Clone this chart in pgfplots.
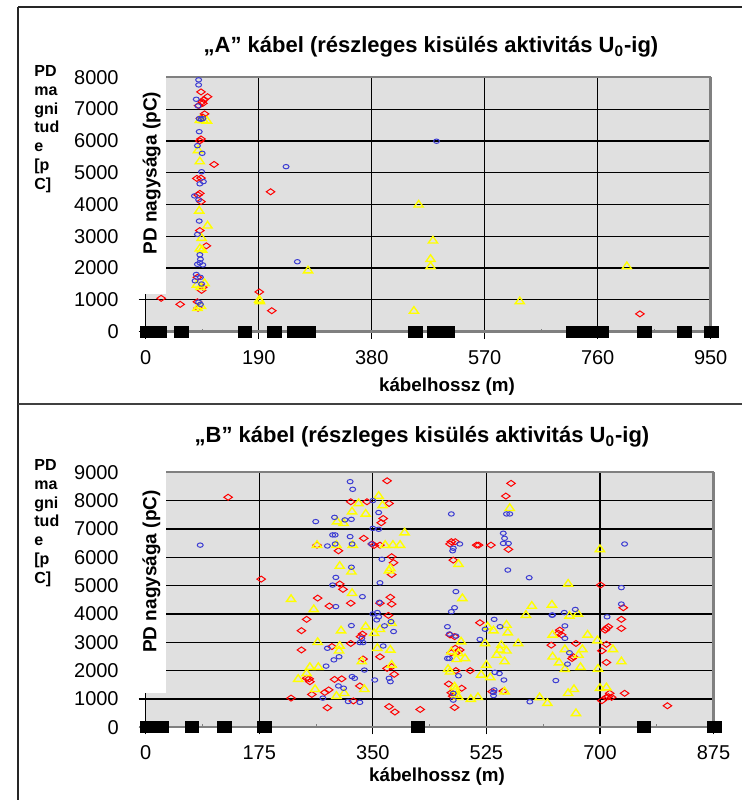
\documentclass[border=0pt]{standalone}
\usepackage{fontspec}
\setmainfont{Liberation Sans}
\usepackage{pgfplots}
\pgfplotsset{compat=1.18}
\definecolor{plotgray}{RGB}{224,224,224}
\definecolor{bordergray}{RGB}{128,128,128}
\definecolor{ptblue}{RGB}{60,60,210}
\definecolor{ptred}{RGB}{255,0,0}
\definecolor{ptyellow}{RGB}{255,255,0}

\pgfplotsset{
  pdaxis/.style={
    scale only axis, clip=false,
    axis line style={draw=none},
    axis background/.style={fill=plotgray},
    grid=major,
    major grid style={black, line width=0.6pt},
    tick pos=left, tick align=outside,
    major tick length=3.5pt,
    tick style={black, line width=0.6pt},
    minor x tick num=1, minor tick length=1.5pt,
    minor tick style={yshift=1.5pt, bordergray, line width=0.5pt},
    tick label style={font=\fontsize{10}{12}\selectfont},
    /pgf/number format/assume math mode=true,
    /pgf/number format/1000 sep={},
    scaled ticks=false,
    xticklabel style={yshift=-2.3pt},
    yticklabel style={xshift=-6.5pt},
  },
  bluepts/.style={only marks, color=ptblue, mark=o, mark size=1.1pt,
    mark options={xscale=1.35, line width=0.5pt}},
  redpts/.style={only marks, color=ptred, mark=diamond, mark size=1.5pt,
    mark options={xscale=1.9, line width=0.5pt}},
  yelpts/.style={only marks, color=ptyellow, mark=triangle, mark size=2.2pt,
    mark options={xscale=1.2, line width=0.7pt}},
  joints/.style={only marks, color=black, mark=square*, mark size=2.75pt,
    mark options={xscale=1.25}},
}

\begin{document}
\begin{tikzpicture}[x=1pt,y=1pt]
\useasboundingbox (0,0) rectangle (371,400);
% frames
\draw[line width=0.6pt, black!85] (9,396.5) -- (371,396.5);
\draw[line width=0.6pt, black!85] (9,396.5) -- (9,0);
\draw[line width=0.6pt, black!75] (9,198) -- (371,198);

% ---------- A ----------
\node[font=\bfseries\fontsize{11}{13}\selectfont] at (215.5,376.5)
  {„A” kábel (részleges kisülés aktivitás U\textsubscript{0}-ig)};
\node[anchor=north west, align=left, inner sep=0pt,
  font=\bfseries\fontsize{8}{9.35}\selectfont] at (17,367.3)
  {PD\\ma\\gni\\tud\\e\\{}[p\\C]};
\node[font=\bfseries\fontsize{9.4}{11}\selectfont] at (223.5,206.5) {kábelhossz (m)};

\begin{axis}[pdaxis, at={(72.85pt,234.15pt)}, anchor=south west,
  width=282.5pt, height=127.2pt,
  xmin=0, xmax=950, ymin=0, ymax=8000,
  xtick={0,190,...,950}, ytick={0,1000,...,8000}]
\draw[bordergray, line width=1pt] (rel axis cs:0,1) -- (rel axis cs:1,1);
\draw[bordergray, line width=1.6pt] (rel axis cs:1,0) -- (rel axis cs:1,1);
\draw[bordergray, line width=1.2pt] (axis cs:-10,0) -- (rel axis cs:1,0);
\fill[white] (axis cs:-30,1186) rectangle (axis cs:34,8230);
\node[rotate=90, font=\bfseries\fontsize{9.5}{11}\selectfont] at (axis cs:10,4990) {PD nagysága (pC)};
\addplot[redpts] coordinates {
(93,7540)(104,7390)(98,7300)(95,7230)(89,7110)(96,7180)(99,6850)(96,6750)(92,6710)
(93,6060)(91,6000)(115,5260)(86,4820)(93,4830)(91,4350)(88,4300)(93,4090)(91,3180)
(102,2700)(87,1710)(96,1400)(94,1300)(87,940)(88,740)(26,1050)(58,860)(191,1250)
(212,660)(210,4400)(831,560)};
\addplot[yelpts] coordinates {
(91,6650)(97,6640)(103,6630)(88,5700)(91,5350)(90,3800)(104,3330)(94,2940)(91,2610)
(95,2570)(99,1520)(86,1470)(92,1400)(87,740)(93,800)(192,950)(191,1000)(273,1920)
(459,3990)(451,650)(483,2860)(479,2280)(479,2050)(629,950)(809,2050)};
\addplot[bluepts] coordinates {
(89,7920)(89,7760)(85,7310)(88,7100)(90,6700)(93,6680)(96,6700)(90,6290)(87,5850)
(95,5610)(94,5030)(97,4720)(91,4650)(82,4270)(89,4150)(90,3480)(87,3060)(91,2420)
(92,2280)(91,2170)(87,2120)(96,2100)(85,1800)(92,1710)(83,1600)(94,1500)(89,930)
(92,860)(236,5190)(255,2200)(489,5990)};
\addplot[joints] coordinates {
(3,0)(13,0)(23.5,0)(59.4,0)(167,0)(216.6,0)(249,0)(261,0)(273,0)(453.7,0)(484.8,0)
(508.3,0)(719,0)(735,0)(751,0)(767,0)(838,0)(906,0)(951.5,0)};
\end{axis}

% ---------- B ----------
\node[font=\bfseries\fontsize{11}{13}\selectfont] at (211,181.5)
  {„B” kábel (részleges kisülés aktivitás U\textsubscript{0}-ig)};
\node[anchor=north west, align=left, inner sep=0pt,
  font=\bfseries\fontsize{8}{9.35}\selectfont] at (17,170.3)
  {PD\\ma\\gni\\tud\\e\\{}[p\\C]};
\node[font=\bfseries\fontsize{9.4}{11}\selectfont] at (218.5,11.5) {kábelhossz (m)};

\begin{axis}[pdaxis, at={(72.85pt,36.35pt)}, anchor=south west,
  width=283.9pt, height=127.5pt,
  xmin=0, xmax=875, ymin=0, ymax=9000,
  xtick={0,175,...,875}, ytick={0,1000,...,9000}]
\draw[bordergray, line width=1pt] (rel axis cs:0,1) -- (rel axis cs:1,1);
\draw[bordergray, line width=1.6pt] (rel axis cs:1,0) -- (rel axis cs:1,1);
\draw[bordergray, line width=1.2pt] (axis cs:-10,0) -- (rel axis cs:1,0);
\fill[white] (axis cs:-28,1210) rectangle (axis cs:31,9220);
\node[rotate=90, font=\bfseries\fontsize{9.5}{11}\selectfont] at (axis cs:9,5500) {PD nagysága (pC)};
\addplot[redpts] coordinates {
(127,8120)(178,5230)(224,1030)
(372,8700)(316,7960)(341,7960)(375,7900)(366,7370)(363,7220)(336,6670)(349,6470)
(352,6420)(361,6430)(264,6430)(297,6230)(379,6020)(382,5810)(379,5390)(299,5060)
(304,4870)(265,4560)(283,4280)(316,4380)(377,4590)(379,4350)(361,4380)(248,3810)
(374,3950)(240,3410)(334,3290)(331,3200)(316,2960)(287,2850)(240,2730)(361,2490)
(335,2410)(379,2140)(372,2080)(383,1870)(291,1690)(302,1710)(252,1710)(248,1730)
(253,1610)(330,1460)(256,1160)(276,1230)(282,1320)(320,930)(280,690)(375,730)(384,540)
(563,8610)(555,8160)(471,6550)(477,6550)(469,6470)(510,6430)(513,6430)(532,6430)
(559,6280)(474,5900)(515,3690)(469,3260)(476,3200)(484,2730)(477,2790)(471,2630)
(481,2670)(478,2000)(500,2000)(467,1530)(487,1380)(471,1220)(473,1100)(534,1260)
(551,1280)(423,630)(476,700)
(701,5020)(710,3490)(713,3550)(708,3430)(638,3430)(641,3260)(636,3320)(625,2900)
(663,2960)(657,2430)(659,2490)(710,2930)(703,2700)(710,2290)(715,1200)(703,940)
(713,1080)(718,1060)(710,1060)
(736,4220)(733,3810)(733,3490)(738,1200)(804,760)};
\addplot[yelpts] coordinates {
(224,4520)(235,1700)
(359,8160)(328,7900)(365,7830)(318,7610)(339,7530)(295,7260)(305,7200)(399,6870)
(264,6430)(294,6430)(319,6430)(369,6430)(381,6430)(392,6430)(299,5690)(317,5490)
(377,5610)(375,5530)(318,4730)(259,4160)(339,3550)(352,3320)(361,3460)(379,3670)
(301,3410)(265,3000)(299,2870)(357,2790)(377,2730)(298,2700)(333,2320)(253,2120)
(266,2120)(379,2200)(248,1900)(261,1340)(337,1340)(306,1200)(294,1100)
(482,5760)(561,7730)(488,4550)(527,3550)(536,3410)(556,3610)(558,3340)(486,3020)
(523,2960)(548,2900)(546,2730)(556,2700)(541,2550)(553,2320)(471,2670)(479,2400)
(492,2430)(482,2610)(466,2050)(469,1960)(525,2200)(517,1850)(531,1760)(476,1430)
(477,1320)(479,1140)(482,1060)(501,990)(512,1060)(553,1260)
(700,6280)(651,5060)(595,4280)(586,3960)(626,4320)(653,3930)(666,4000)(627,3260)
(681,3260)(574,2960)(646,2750)(673,2750)(696,3060)(720,2750)(627,2490)(637,2280)
(646,2050)(670,2120)(697,2060)(667,2550)(660,1340)(651,1200)(700,1380)(710,1400)
(607,1050)(619,850)(663,490)(733,2320)};
\addplot[bluepts] coordinates {
(84,6430)
(315,8670)(319,8400)(291,7410)(262,7260)(307,7320)(317,7340)(350,8000)(359,7580)
(350,7020)(359,6990)(288,6790)(292,6790)(315,6730)(280,6400)(292,6470)(318,6470)
(348,6470)(364,5930)(317,5650)(293,5290)(288,5020)(361,5100)(334,4610)(293,4260)
(360,4410)(350,4000)(357,4050)(359,3900)(356,3790)(378,3730)(368,3580)(382,3380)
(317,3590)(333,3140)(330,2990)(335,2990)(280,2790)(366,2870)(298,2490)(290,2380)
(278,2160)(337,2020)(318,1790)(322,1730)(297,1460)(305,1380)(353,1670)(377,1610)
(375,1730)(273,1030)(312,910)(330,880)
(471,7530)(556,7530)(561,7530)(551,6850)(553,6670)(551,6490)(559,6490)(474,6320)
(473,6230)(484,6470)(558,5550)(478,4790)(476,4220)(471,4080)(537,3810)(546,3550)
(523,3460)(465,3550)(468,3290)(478,3220)(515,3100)(465,2430)(468,2430)(482,1820)
(538,1940)(545,1900)(552,1670)(537,1320)(536,1230)(536,1120)(474,960)(474,1200)
(591,5280)(627,3960)(626,3960)(645,4050)(662,4160)(711,3900)(646,3580)(646,3140)
(653,2630)(650,2230)(632,1650)(592,900)
(738,6470)(733,4930)(733,4350)};
\addplot[joints] coordinates {
(2.8,0)(14,0)(25,0)(71.3,0)(121.7,0)(183.4,0)(419.6,0)(767.8,0)(876.7,0)};
\end{axis}
\end{tikzpicture}
\end{document}
